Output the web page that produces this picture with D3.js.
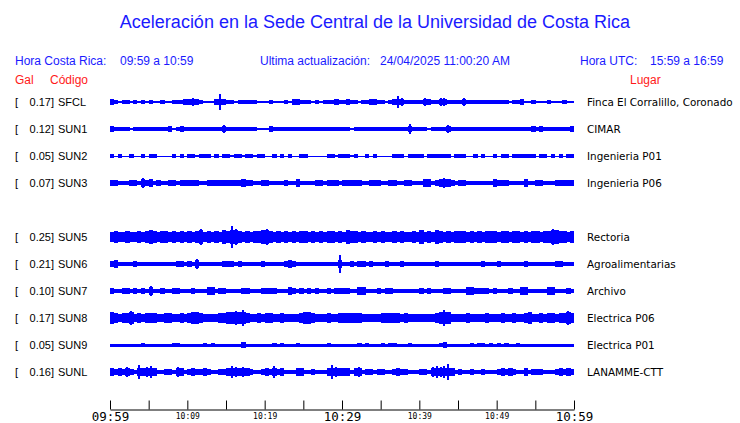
<!DOCTYPE html>
<html><head><meta charset="utf-8">
<script src="https://cdn.jsdelivr.net/npm/d3@7"></script>
<style>body{margin:0;background:#fff}svg{display:block}</style>
</head><body>
<svg id="c" width="740" height="423"></svg>
<script>
// ---------- data ----------
const title = "Aceleración en la Sede Central de la Universidad de Costa Rica";
const localRange = "09:59 a 10:59";
const utcRange = "15:59 a 16:59";
const lastUpdate = "24/04/2025 11:00:20 AM";
const codes = ["SFCL","SUN1","SUN2","SUN3","SUN5","SUN6","SUN7","SUN8","SUN9","SUNL"];
const gals = [0.17,0.12,0.05,0.07,0.25,0.21,0.10,0.17,0.05,0.16];
const places = ["Finca El Corralillo, Coronado","CIMAR","Ingenieria P01","Ingenieria P06","Rectoria","Agroalimentarias","Archivo","Electrica P06","Electrica P01","LANAMME-CTT"];
const slots = [0,1,2,3,5,6,7,8,9,10];
const tickMinutes = [0,5,10,15,20,25,30,35,40,45,50,55,60];
const tickLabels = ["09:59","","10:09","","10:19","","10:29","","10:39","","10:49","","10:59"];
const majorLabels = ["09:59","10:29","10:59"];
const binMinutes = 0.5;
// envelope half-amplitudes per 30 s bin (relative units)
const ampSFCL = [3,2,1,2,2,1,2,1,2,1, 2,1,1,2,1,1,2,2,2,3, 3,4,3,2,1,1,1,3,8,3, 2,2,1,2,2,2,2,2,1,1, 1,2,1,1,1,2,1,3,3,2, 2,2,1,2,1,2,2,2,3,2, 2,3,2,2,1,2,2,3,3,2, 2,1,2,3,6,4,2,2,2,2, 2,4,3,2,2,4,4,2,2,2, 2,4,2,2,2,2,2,2,2,2, 2,2,2,1,2,2,3,1,1,2, 1,1,1,2,1,1,1,2,1,1];
const ampSUN1 = [3,2,2,2,2,1,2,2,2,2, 2,2,2,2,2,3,1,2,3,2, 2,2,2,2,2,2,2,2,2,4, 2,2,2,2,2,2,2,2,1,1, 1,3,2,2,2,2,2,2,2,2, 2,2,2,2,2,2,2,2,2,2, 2,2,1,2,2,2,2,2,2,2, 2,2,2,2,2,2,2,5,2,2, 2,2,1,2,2,2,2,4,2,2, 2,2,2,2,2,2,2,2,2,2, 2,2,2,2,2,2,2,2,2,3, 2,3,2,2,2,2,2,2,2,3];
const ampSUN2 = [2,0.5,2,0.5,0.5,2,0.5,0.5,2,0.5, 2,2,0.5,0.5,0.5,0.5,2,0.5,2,0.5, 2,2,1,2,2,2,0.5,2,0.5,2, 2,1,2,2,1,2,2,1,2,2, 0.5,0.5,2,0.5,2,0.5,2,0.5,0.5,2, 2,0.5,0.5,0.5,0.5,0.5,2,2,1,2, 2,2,1,2,0.5,0.5,2,0.5,2,0.5, 0.5,0.5,0.5,2,2,2,0.5,2,2,2, 2,0.5,2,2,2,2,2,2,0.5,2, 2,2,0.5,0.5,2,0.5,2,0.5,0.5,2, 0.5,2,2,0.5,2,2,2,2,2,2, 0.5,2,2,0.5,2,0.5,2,0.5,2,2];
const ampSUN3 = [3,3,2,2,2,3,3,2,5,3, 4,2,3,2,2,3,3,2,3,3, 3,3,3,2,2,3,3,3,3,3, 3,3,3,3,4,3,3,2,2,3, 3,2,2,2,2,3,2,2,4,2, 2,2,2,3,3,2,3,3,3,2, 3,3,3,3,3,2,2,3,3,3, 2,2,3,3,2,2,3,3,2,2, 2,4,4,2,3,4,5,4,3,2, 3,3,2,2,2,2,2,2,2,4, 3,3,3,2,2,2,2,4,2,2, 3,3,2,2,2,3,3,3,3,3];
const ampSUN5 = [5,6,5,5,6,5,5,6,5,6, 7,6,5,6,6,5,6,5,6,5, 6,5,6,8,5,6,5,6,5,7, 6,11,8,6,5,6,5,6,6,7, 8,6,5,6,5,6,5,6,5,6, 6,5,6,5,6,5,6,6,5,6, 5,7,6,6,5,6,5,5,6,5, 6,5,5,6,5,6,5,5,6,5, 7,5,6,5,7,6,5,6,5,6, 6,6,5,6,5,6,5,6,6,6, 5,6,6,5,6,6,5,6,5,6, 6,5,6,6,8,7,6,6,5,6];
const ampSUN6 = [3,4,2,2,2,2,3,2,2,2, 2,2,2,2,2,2,2,3,3,2, 3,2,5,2,2,2,2,2,2,3, 3,3,2,3,2,2,2,2,2,3, 2,2,2,2,2,3,4,3,2,2, 2,2,2,2,2,2,2,2,2,9, 2,2,3,2,3,3,2,3,2,2, 2,3,2,2,2,3,2,2,2,2, 2,2,2,2,3,2,2,2,2,2, 2,2,2,2,2,2,3,2,2,2, 3,2,2,2,2,2,2,3,2,2, 2,2,2,2,2,3,3,2,2,2];
const ampSUN7 = [3,2,2,3,3,2,3,2,3,2, 5,2,2,3,2,2,3,3,2,2, 2,3,2,2,2,4,4,2,3,3, 2,2,2,2,3,3,2,2,2,3, 3,3,3,2,2,2,4,3,2,3, 2,3,2,3,2,2,3,2,3,3, 3,3,2,2,4,4,2,2,2,3, 2,3,3,2,2,2,2,2,2,2, 3,2,3,2,2,2,3,3,2,2, 2,2,4,4,3,3,3,3,2,3, 2,2,2,3,2,2,4,4,2,2, 2,2,2,4,4,2,2,2,3,2];
const ampSUN8 = [6,5,4,5,5,7,4,5,4,5, 5,5,4,4,5,5,4,4,5,4, 5,6,6,5,4,4,4,4,5,5, 6,6,7,6,8,5,4,4,5,4, 5,5,4,4,5,4,4,4,4,5, 6,6,5,4,4,4,5,4,4,5, 5,5,5,5,5,4,4,4,4,4, 5,5,5,5,5,4,5,4,4,4, 4,4,4,4,5,6,8,6,4,4, 4,4,5,4,4,4,4,5,4,4, 4,5,4,4,5,4,4,5,6,4, 4,5,4,5,5,4,5,5,7,5];
const ampSUN9 = [1.5,1.5,1.5,1.5,1.5,1.5,1.5,1.5,2,1.5, 1.5,1.5,1.5,1.5,1.5,1.5,2,2,1.5,1.5, 1.5,1.5,1.5,1.5,2,1.5,2,1.5,1.5,1.5, 1.5,1.5,1.5,1.5,3,1.5,1.5,1.5,1.5,1.5, 1.5,1.5,2,1.5,2,1.5,1.5,1.5,2,1.5, 1.5,1.5,1.5,1.5,1.5,1.5,2,1.5,1.5,1.5, 1.5,1.5,1.5,1.5,2,1.5,2,1.5,1.5,1.5, 2,1.5,2,2,1.5,1.5,1.5,2,1.5,1.5, 1.5,1.5,1.5,1.5,1.5,2,3,1.5,1.5,1.5, 1.5,1.5,1.5,2,1.5,2,2,1.5,2,1.5, 2,1.5,2,1.5,1.5,2,1.5,1.5,1.5,1.5, 1.5,1.5,1.5,1.5,1.5,1.5,1.5,1.5,1.5,1.5];
const ampSUNL = [4,3,4,3,5,3,2,7,4,5, 6,4,2,2,3,3,2,5,4,2, 3,4,3,3,4,3,2,2,3,3, 4,6,5,4,5,4,3,2,2,3, 4,3,6,3,4,2,2,2,4,4, 2,2,3,2,2,2,4,7,5,4, 4,4,2,4,5,2,3,3,2,3, 3,2,2,3,4,3,3,2,2,2, 3,3,2,5,6,5,6,8,4,2, 3,2,2,3,2,2,3,2,2,2, 3,4,3,4,3,2,2,4,2,3, 3,3,2,2,2,3,4,3,4,3];
const traces = [ampSFCL,ampSUN1,ampSUN2,ampSUN3,ampSUN5,ampSUN6,ampSUN7,ampSUN8,ampSUN9,ampSUNL];

// ---------- drawing ----------
const svg = d3.select("#c");
const blue = "#1a1aff", red = "#ff1a1a", traceColor = "#0000ff";
const sans = "'Liberation Sans', Arial, sans-serif";

const x = d3.scaleLinear().domain([0, 60]).range([110, 574]);
const row = d3.scalePoint().domain(d3.range(11)).range([102, 372]);
const amp = d3.scaleLinear().domain([0, 1]).range([0, 1]);

svg.append("text").attr("x", 375).attr("y", 28).attr("text-anchor", "middle")
  .attr("font-family", sans).attr("font-size", 18).attr("fill", blue).text(title);

const hdr = [
  {t: "Hora Costa Rica:", x: 15}, {t: localRange, x: 120},
  {t: "Ultima actualización:", x: 260}, {t: lastUpdate, x: 380},
  {t: "Hora UTC:", x: 580}, {t: utcRange, x: 650}
];
svg.selectAll("text.hdr").data(hdr).join("text").attr("class", "hdr")
  .attr("x", d => d.x).attr("y", 65).attr("font-family", sans).attr("font-size", 12)
  .attr("fill", blue).text(d => d.t);

const red1 = [{t: "Gal", x: 15}, {t: "Código", x: 50}, {t: "Lugar", x: 630}];
svg.selectAll("text.red").data(red1).join("text").attr("class", "red")
  .attr("x", d => d.x).attr("y", 84).attr("font-family", sans).attr("font-size", 12)
  .attr("fill", red).text(d => d.t);

const rows = svg.selectAll("g.row").data(codes).join("g").attr("class", "row");
rows.append("text").attr("x", 15).attr("y", (d, i) => row(slots[i]) + 4)
  .attr("font-family", sans).attr("font-size", 11).attr("fill", "#000").text("[");
rows.append("text").attr("x", 54).attr("y", (d, i) => row(slots[i]) + 4).attr("text-anchor", "end")
  .attr("font-family", sans).attr("font-size", 11).attr("fill", "#000")
  .text((d, i) => gals[i].toFixed(2) + "]");
rows.append("text").attr("x", 58).attr("y", (d, i) => row(slots[i]) + 4)
  .attr("font-family", sans).attr("font-size", 11).attr("fill", "#000").text(d => d);
rows.append("text").attr("x", 587).attr("y", (d, i) => row(slots[i]) + 4)
  .attr("font-family", "'DejaVu Sans', sans-serif").attr("font-size", 10.4).attr("fill", "#000")
  .text((d, i) => places[i]);

const bw = x(binMinutes) - x(0);
traces.forEach((arr, k) => {
  const cy = row(slots[k]);
  const cap = d3.min(arr) + 2;
  const g = svg.append("g").attr("fill", traceColor).attr("stroke", traceColor).attr("shape-rendering", "crispEdges");
  g.selectAll("rect").data(arr).join("rect")
    .attr("stroke", "none")
    .attr("x", (d, i) => x(i * binMinutes)).attr("width", bw + 0.4)
    .attr("y", d => cy - amp(Math.min(d, cap)))
    .attr("height", d => 2 * amp(Math.min(d, cap)));
  g.selectAll("line").data(arr.map((d, i) => ({d, i})).filter(o => o.d > cap)).join("line")
    .attr("x1", o => x((o.i + 0.5) * binMinutes)).attr("x2", o => x((o.i + 0.5) * binMinutes))
    .attr("y1", o => cy - amp(o.d)).attr("y2", o => cy + amp(o.d))
    .attr("stroke-width", 2);
});

const axis = d3.axisBottom(x).tickValues(tickMinutes).tickSize(-9).tickSizeOuter(0)
  .tickPadding(4).tickFormat((d, i) => tickLabels[i]);
const ax = svg.append("g").attr("transform", "translate(0,409.5)").call(axis);
ax.select(".domain").attr("stroke", "#000");
ax.selectAll(".tick line").attr("stroke", "#000");
ax.selectAll(".tick text").attr("fill", "#000")
  .attr("font-family", "'DejaVu Sans Mono', monospace")
  .each(function(d, i) {
    const lab = tickLabels[i];
    const big = majorLabels.includes(lab);
    d3.select(this).attr("font-size", big ? 12.5 : 8).attr("dy", big ? "0.85em" : "0.95em")
      .attr("y", big ? 1 : 2);
  });
</script>
</body></html>
